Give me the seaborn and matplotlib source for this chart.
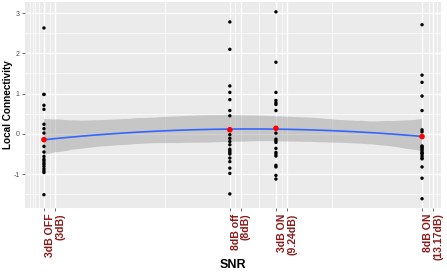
import numpy as np
import pandas as pd
import matplotlib
matplotlib.use("Agg")
import matplotlib.pyplot as plt
import seaborn as sns
from matplotlib.collections import PolyCollection

# ---- data ----
snr_values = [3.0, 8.0, 9.24, 13.17]
snr_labels = ["3dB OFF\n(3dB)", "8dB off\n(8dB)", "3dB ON\n(9.24dB)", "8dB ON\n(13.17dB)"]

conn_3db_off = [2.63, 0.98, 0.98, 0.71, 0.61, 0.24, 0.13, 0.02, -0.31, -0.45,
                -0.56, -0.63, -0.67, -0.72, -0.76, -0.81, -0.87, -0.92, -0.96, -1.51]
conn_8db_off = [2.78, 2.10, 1.19, 1.03, 0.85, 0.58, 0.45, 0.12, -0.02, -0.11,
                -0.19, -0.27, -0.38, -0.42, -0.46, -0.50, -0.60, -0.69, -0.85, -0.98, -1.49]
conn_3db_on = [3.03, 1.78, 1.03, 0.83, 0.77, 0.73, 0.58, 0.02, -0.13, -0.17,
               -0.21, -0.36, -0.46, -0.50, -0.55, -0.78, -0.82, -1.03, -1.12]
conn_8db_on = [2.71, 1.46, 1.28, 0.94, 0.58, 0.10, 0.05, -0.30, -0.32, -0.35,
               -0.38, -0.42, -0.46, -0.48, -0.50, -0.55, -0.60, -0.62, -0.82, -1.10, -1.61]

y_ticks = [-1, 0, 1, 2, 3]
y_tick_labels = ["-1", "0", "1", "2", "3"]

groups = [conn_3db_off, conn_8db_off, conn_3db_on, conn_8db_on]
df = pd.DataFrame({
    "snr": np.concatenate([[s] * len(g) for s, g in zip(snr_values, groups)]),
    "conn": np.concatenate(groups),
})
means = df.groupby("snr", as_index=False)["conn"].mean()

# ---- figure ----
plt.rcParams["axes.unicode_minus"] = False
plt.rcParams["font.family"] = ["Liberation Sans", "DejaVu Sans"]

fig = plt.figure(figsize=(4.47, 2.74), dpi=100)
ax = fig.add_axes([25 / 447, 1 - 208 / 274, (441 - 25) / 447, (208 - 2) / 274])
ax.set_facecolor("#EBEBEB")
for sp in ax.spines.values():
    sp.set_visible(False)

xlim = (2.49, 13.68)
ylim = (-1.84, 3.275)
label_offset = 0.3

# grid lines
for y in y_ticks:
    ax.axhline(y, color="white", lw=1.0, zorder=0)
for y in [-1.5, -0.5, 0.5, 1.5, 2.5]:
    ax.axhline(y, color="white", lw=0.5, zorder=0)
major_x = list(snr_values) + [s + label_offset for s in snr_values]
for x in major_x:
    ax.axvline(x, color="white", lw=1.0, zorder=0)
minor_x = [2.62, 2.70, 2.76, 2.87, 3.15, 6.25, 8.13, 8.78, 9.40, 10.74, 13.35, 13.57]
for x in minor_x:
    ax.axvline(x, color="white", lw=0.5, zorder=0)

# smooth with confidence band
sns.regplot(data=df, x="snr", y="conn", order=2, scatter=False, ci=95,
            n_boot=1000, seed=3, color="#3366FF", truncate=True,
            line_kws=dict(lw=1.2, zorder=3), ax=ax)
for coll in ax.collections:
    if isinstance(coll, PolyCollection):
        coll.set_facecolor("#999999")
        coll.set_alpha(0.45)
        coll.set_edgecolor("none")
        coll.set_zorder(2)

# points
sns.scatterplot(data=df, x="snr", y="conn", color="black", s=6,
                edgecolor="none", zorder=4, ax=ax, legend=False)
sns.scatterplot(data=means, x="snr", y="conn", color="red", s=16,
                edgecolor="none", zorder=5, ax=ax, legend=False)

ax.set_xlim(*xlim)
ax.set_ylim(*ylim)

ax.set_yticks(y_ticks)
ax.set_yticklabels(y_tick_labels)
ax.set_xticks([s + label_offset for s in snr_values])
ax.set_xticklabels(snr_labels, rotation=90, ha="center", va="top",
                   multialignment="right", color="#8B1A1A",
                   fontsize=7.6, fontweight="bold", linespacing=1.0)
ax.set_xticks(snr_values, minor=True)
ax.tick_params(axis="x", which="both", length=2, width=0.5, color="#333333", pad=2)
ax.tick_params(axis="y", length=2, width=0.5, color="#333333", pad=2,
               labelsize=5, labelcolor="#4D4D4D")

ax.set_xlabel("SNR", fontsize=9, fontweight="bold")
ax.xaxis.set_label_coords(0.5, -(259 - 208) / 206)
ax.set_ylabel("Local Connectivity", fontsize=7.2, fontweight="bold")
ax.yaxis.set_label_coords(-(25 - 13) / 416, 0.5)

fig.savefig("out.png", dpi=100)
